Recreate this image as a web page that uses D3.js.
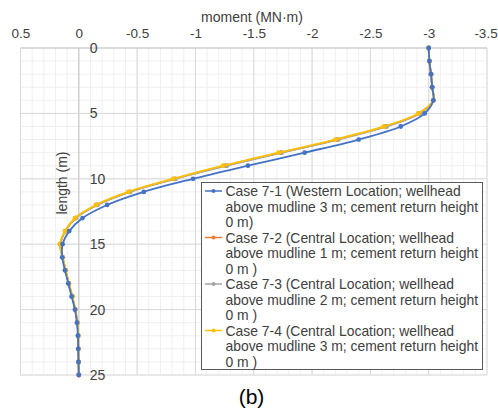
<!DOCTYPE html>
<html>
<head>
<meta charset="utf-8">
<script src="https://cdn.jsdelivr.net/npm/d3@7"></script>
<style>
  html, body { margin: 0; padding: 0; background: #fff; }
  svg { display: block; font-family: "Liberation Sans", Arial, sans-serif; }
</style>
</head>
<body>
<svg id="chart" width="498" height="413"></svg>
<script>
// Depth below the top of the casing (m), one sample per metre
const depths = d3.range(0, 26);

// Bending moment (MN·m) at each depth, per load case
const case71 = [-3.00, -3.006, -3.02, -3.03, -3.04, -2.966, -2.76, -2.40, -1.936, -1.45,
                -0.98, -0.557, -0.243, -0.032, 0.082, 0.139, 0.142, 0.119, 0.090, 0.062,
                0.033, 0.016, 0.008, 0.005, 0.003, 0.0];
const case72 = [-3.00, -3.006, -3.02, -3.03, -3.04, -2.92, -2.63, -2.215, -1.73, -1.255,
                -0.82, -0.435, -0.155, 0.028, 0.116, 0.158, 0.139, 0.113, 0.086, 0.056,
                0.031, 0.013, 0.005, 0.004, 0.002, 0.0];
const case73 = [-3.00, -3.006, -3.02, -3.03, -3.04, -2.92, -2.64, -2.225, -1.74, -1.27,
                -0.83, -0.44, -0.16, 0.026, 0.115, 0.158, 0.139, 0.113, 0.086, 0.056,
                0.031, 0.013, 0.005, 0.004, 0.002, 0.0];
const case74 = [-3.00, -3.006, -3.02, -3.03, -3.04, -2.91, -2.615, -2.20, -1.713, -1.237,
                -0.808, -0.423, -0.146, 0.033, 0.119, 0.162, 0.140, 0.112, 0.085, 0.055,
                0.030, 0.012, 0.004, 0.003, 0.002, 0.0];

const seriesNames = [
  ["Case 7-1 (Western Location; wellhead", "above mudline 3 m; cement return height", "0 m)"],
  ["Case 7-2 (Central Location; wellhead", "above mudline 1 m; cement return height", "0 m )"],
  ["Case 7-3 (Central Location; wellhead", "above mudline 2 m; cement return height", "0 m )"],
  ["Case 7-4 (Central Location; wellhead", "above mudline 3 m; cement return height", "0 m )"]
];
const seriesColors = ["#4472C4", "#ED7D31", "#A5A5A5", "#FFC000"];
const seriesValues = [case71, case72, case73, case74];

const xTicks = [0.5, 0, -0.5, -1, -1.5, -2, -2.5, -3, -3.5];
const yTicks = [0, 5, 10, 15, 20, 25];
const xTitle = "moment (MN·m)";
const yTitle = "length (m)";
const caption = "(b)";

const svg = d3.select("#chart");
const plot = { left: 20.5, right: 487, top: 48, bottom: 375 };

// Reversed moment axis: positive values on the left
const x = d3.scaleLinear().domain([0.5, -3.5]).range([plot.left, plot.right]);
const y = d3.scaleLinear().domain([0, 25]).range([plot.top, plot.bottom]);

// Minor grid
const minorX = d3.range(5, -36, -1).map(v => v / 10);
const minorY = d3.range(0, 26);
const grid = svg.append("g");
grid.selectAll("line.mx").data(minorX).join("line")
  .attr("x1", d => x(d)).attr("x2", d => x(d))
  .attr("y1", plot.top).attr("y2", plot.bottom)
  .attr("stroke", "#efefef").attr("stroke-width", 1);
grid.selectAll("line.my").data(minorY).join("line")
  .attr("x1", plot.left).attr("x2", plot.right)
  .attr("y1", d => y(d)).attr("y2", d => y(d))
  .attr("stroke", "#efefef").attr("stroke-width", 1);

// Major grid
grid.selectAll("line.Mx").data(xTicks).join("line")
  .attr("x1", d => x(d)).attr("x2", d => x(d))
  .attr("y1", plot.top).attr("y2", plot.bottom)
  .attr("stroke", d => d === 0 ? "#bfbfbf" : "#d9d9d9").attr("stroke-width", 1);
grid.selectAll("line.My").data(yTicks).join("line")
  .attr("x1", plot.left).attr("x2", plot.right)
  .attr("y1", d => y(d)).attr("y2", d => y(d))
  .attr("stroke", d => d === 0 ? "#bfbfbf" : "#d9d9d9").attr("stroke-width", 1);

// Tick labels along the top
const xAxis = svg.append("g")
  .attr("transform", `translate(0,${plot.top})`)
  .call(d3.axisTop(x).tickValues(xTicks).tickSize(0).tickPadding(10).tickFormat(d => String(d)));
xAxis.select(".domain").remove();
xAxis.selectAll("text").attr("font-size", 13.5).attr("fill", "#404040")
  .attr("font-family", "Liberation Sans, Arial, sans-serif");
// keep the last label inside the page edge
xAxis.selectAll(".tick").filter(d => d === -3.5).select("text").attr("dx", -1.5);

// Depth labels beside the zero line
const yAxis = svg.append("g")
  .attr("transform", `translate(${x(0)},0)`)
  .call(d3.axisRight(y).tickValues(yTicks).tickSize(0).tickPadding(11).tickFormat(d => String(d)));
yAxis.select(".domain").remove();
yAxis.selectAll("text").attr("font-size", 14).attr("fill", "#404040")
  .attr("font-family", "Liberation Sans, Arial, sans-serif");

// Axis titles
svg.append("text").attr("x", 252).attr("y", 22)
  .attr("text-anchor", "middle").attr("font-size", 14).attr("fill", "#404040").text(xTitle);
svg.append("text")
  .attr("transform", `translate(67,183) rotate(-90)`)
  .attr("text-anchor", "middle").attr("font-size", 14).attr("fill", "#404040").text(yTitle);

// Curves, drawn so Case 7-1 ends up on top
const line = d3.line()
  .x(d => x(d.v)).y(d => y(d.d))
  .curve(d3.curveCatmullRom.alpha(0.5));
const drawOrder = [1, 2, 3, 0];
drawOrder.forEach(i => {
  const pts = depths.map((d, k) => ({ d, v: seriesValues[i][k] }));
  const g = svg.append("g");
  g.append("path").datum(pts).attr("d", line)
    .attr("fill", "none").attr("stroke", seriesColors[i]).attr("stroke-width", 1.8);
  g.selectAll("circle").data(pts).join("circle")
    .attr("cx", d => x(d.v)).attr("cy", d => y(d.d)).attr("r", 2.4)
    .attr("fill", seriesColors[i]);
});

// Legend
const lg = svg.append("g");
lg.append("rect").attr("x", 201.5).attr("y", 182.5).attr("width", 281).attr("height", 187)
  .attr("fill", "#fff").attr("stroke", "#595959").attr("stroke-width", 1);
const lineH = 15.5;
seriesNames.forEach((lines, i) => {
  const top = 191 + i * 3 * lineH;
  lg.append("line").attr("x1", 205).attr("x2", 222).attr("y1", top).attr("y2", top)
    .attr("stroke", seriesColors[i]).attr("stroke-width", 1.5);
  lg.append("circle").attr("cx", 213.5).attr("cy", top).attr("r", 2).attr("fill", seriesColors[i]);
  lines.forEach((t, j) => {
    lg.append("text").attr("x", 225.5).attr("y", top + j * lineH + 5)
      .attr("font-size", 13.9).attr("fill", "#404040").text(t);
  });
});

// Panel caption
svg.append("text").attr("x", 251.5).attr("y", 404)
  .attr("text-anchor", "middle").attr("font-size", 21).attr("fill", "#000").text(caption);
</script>
</body>
</html>
